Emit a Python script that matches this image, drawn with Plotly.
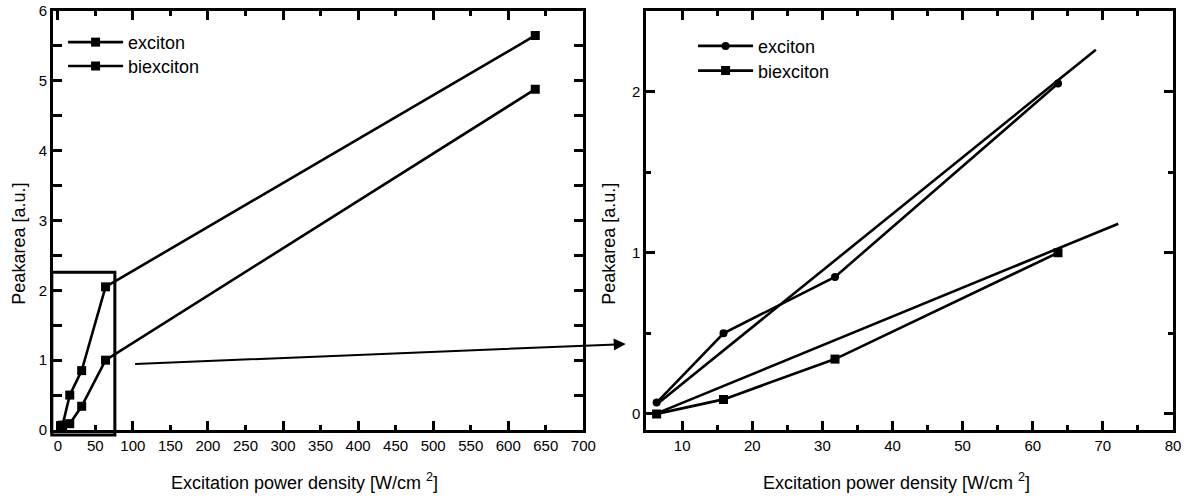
import plotly.graph_objects as go

# ---------------- data ----------------
power_left = [6.36, 15.9, 31.8, 63.6, 636]
exciton_left = [0.07, 0.50, 0.85, 2.05, 5.65]
biexciton_left = [0.02, 0.09, 0.34, 1.00, 4.88]

power_right = [6.36, 15.9, 31.8, 63.6]
exciton_right = [0.07, 0.50, 0.85, 2.05]
biexciton_right = [0.0, 0.09, 0.34, 1.00]

exciton_fit_x = [6.4, 69.0]
exciton_fit_y = [0.06, 2.26]
biexciton_fit_x = [6.2, 72.2]
biexciton_fit_y = [0.0, 1.18]

series_names = ["exciton", "biexciton"]

left_xrange = [-6.4, 700]
left_yrange = [0, 6]
right_xrange = [4.9, 80]
right_yrange = [-0.1, 2.5]

# zoom box drawn on the left panel (data units)
box_x = [-8, 76]
box_y = [-0.07, 2.26]

x_title = "Excitation power density [W/cm <sup>2</sup>]"
y_title = "Peakarea [a.u.]"

# ---------------- style ----------------
FONT = "Liberation Sans, Arial, sans-serif"
BLK = "black"
LW = 2.6

fig = go.Figure()

# left panel
fig.add_trace(go.Scatter(x=power_left, y=exciton_left, name=series_names[0],
                         mode="lines+markers", line=dict(color=BLK, width=LW),
                         marker=dict(symbol="square", size=9, color=BLK),
                         xaxis="x", yaxis="y", legend="legend"))
fig.add_trace(go.Scatter(x=power_left, y=biexciton_left, name=series_names[1],
                         mode="lines+markers", line=dict(color=BLK, width=LW),
                         marker=dict(symbol="square", size=9, color=BLK),
                         xaxis="x", yaxis="y", legend="legend3"))
# dummy trace for the long major ticks of the left x axis
fig.add_trace(go.Scatter(x=[None], y=[None], xaxis="x3", yaxis="y",
                         showlegend=False, hoverinfo="skip"))

# right panel
fig.add_trace(go.Scatter(x=power_right, y=exciton_right, name=series_names[0],
                         mode="lines+markers", line=dict(color=BLK, width=LW),
                         marker=dict(symbol="circle", size=8, color=BLK),
                         xaxis="x2", yaxis="y2", legend="legend2"))
fig.add_trace(go.Scatter(x=power_right, y=biexciton_right, name=series_names[1],
                         mode="lines+markers", line=dict(color=BLK, width=LW),
                         marker=dict(symbol="square", size=9, color=BLK),
                         xaxis="x2", yaxis="y2", legend="legend4"))
fig.add_trace(go.Scatter(x=exciton_fit_x, y=exciton_fit_y, mode="lines",
                         line=dict(color=BLK, width=LW), showlegend=False,
                         xaxis="x2", yaxis="y2"))
fig.add_trace(go.Scatter(x=biexciton_fit_x, y=biexciton_fit_y, mode="lines",
                         line=dict(color=BLK, width=LW), showlegend=False,
                         xaxis="x2", yaxis="y2"))

tickfont = dict(family=FONT, size=15, color=BLK)
titlefont = dict(family=FONT, size=18, color=BLK)

common = dict(showline=True, linecolor=BLK, linewidth=3, mirror="allticks",
              ticks="inside", tickcolor=BLK, tickwidth=2.5, showgrid=False,
              zeroline=False, tickfont=tickfont, automargin=False)

L_DOM = [0, 0.4735]
R_DOM = [0.5298, 1]


def legend_box(x, y):
    return dict(x=x, y=y, xanchor="left", yanchor="middle", bgcolor="rgba(0,0,0,0)",
                font=dict(family=FONT, size=18, color=BLK), itemwidth=55)


fig.update_layout(
    width=1187, height=497,
    margin=dict(l=53, r=14, t=11, b=67, autoexpand=False),
    paper_bgcolor="white", plot_bgcolor="white",
    font=dict(family=FONT, color=BLK),
    xaxis=dict(domain=L_DOM, range=left_xrange, dtick=50, tick0=0, ticklen=5,
               anchor="y", **common),
    xaxis3=dict(overlaying="x", anchor="y", range=left_xrange, dtick=100, tick0=0,
                ticks="inside", ticklen=9, tickwidth=2.5, tickcolor=BLK,
                showticklabels=False, showline=False, mirror="allticks",
                showgrid=False, zeroline=False, automargin=False),
    yaxis=dict(domain=[0, 1], range=left_yrange, dtick=1, ticklen=9,
               minor=dict(dtick=0.5, ticklen=5, tickwidth=2.5, tickcolor=BLK, ticks="inside"),
               anchor="x", **common),
    xaxis2=dict(domain=R_DOM, range=right_xrange, dtick=10, tick0=0, ticklen=9,
                minor=dict(dtick=5, ticklen=5, tickwidth=2.5, tickcolor=BLK, ticks="inside"),
                anchor="y2", **common),
    yaxis2=dict(domain=[0, 1], range=right_yrange, dtick=1, tick0=0, ticklen=9,
                minor=dict(dtick=0.5, ticklen=5, tickwidth=2.5, tickcolor=BLK, ticks="inside"),
                anchor="x2", **common),
    legend=legend_box(0.009, 0.925),
    legend3=legend_box(0.009, 0.868),
    legend2=legend_box(0.5715, 0.916),
    legend4=legend_box(0.5715, 0.857),
    showlegend=True,
)

# axis titles
for xr, yr, xpos in (("x domain", "y domain", 0.4747), ("x2 domain", "y2 domain", 0.4758)):
    fig.add_annotation(xref=xr, yref=yr, x=xpos, y=-0.124, text=x_title,
                       showarrow=False, xanchor="center", yanchor="middle", font=titlefont)
for xr, yr, xpos in (("x domain", "y domain", -0.0647), ("x2 domain", "y2 domain", -0.0712)):
    fig.add_annotation(xref=xr, yref=yr, x=xpos, y=0.444, text=y_title, textangle=-90,
                       showarrow=False, xanchor="center", yanchor="middle", font=titlefont)

# zoom box (converted from data units to left-axis domain fractions)
def xfrac(v):
    return (v - left_xrange[0]) / (left_xrange[1] - left_xrange[0])

def yfrac(v):
    return (v - left_yrange[0]) / (left_yrange[1] - left_yrange[0])

fig.add_shape(type="rect", xref="x domain", yref="y domain",
              x0=xfrac(box_x[0]), x1=xfrac(box_x[1]),
              y0=yfrac(box_y[0]), y1=yfrac(box_y[1]),
              line=dict(color=BLK, width=3), fillcolor="rgba(0,0,0,0)")

# arrow pointing from the zoom region to the right panel
fig.add_annotation(xref="x domain", yref="y domain", axref="x domain", ayref="y domain",
                   x=1.080, y=0.205, ax=0.152, ay=0.1575, text="",
                   showarrow=True, arrowhead=2, arrowsize=1.2, arrowwidth=2,
                   arrowcolor=BLK)

fig.write_html("out.html", config={"displayModeBar": False},
               post_script="document.body.style.margin='0px';")
